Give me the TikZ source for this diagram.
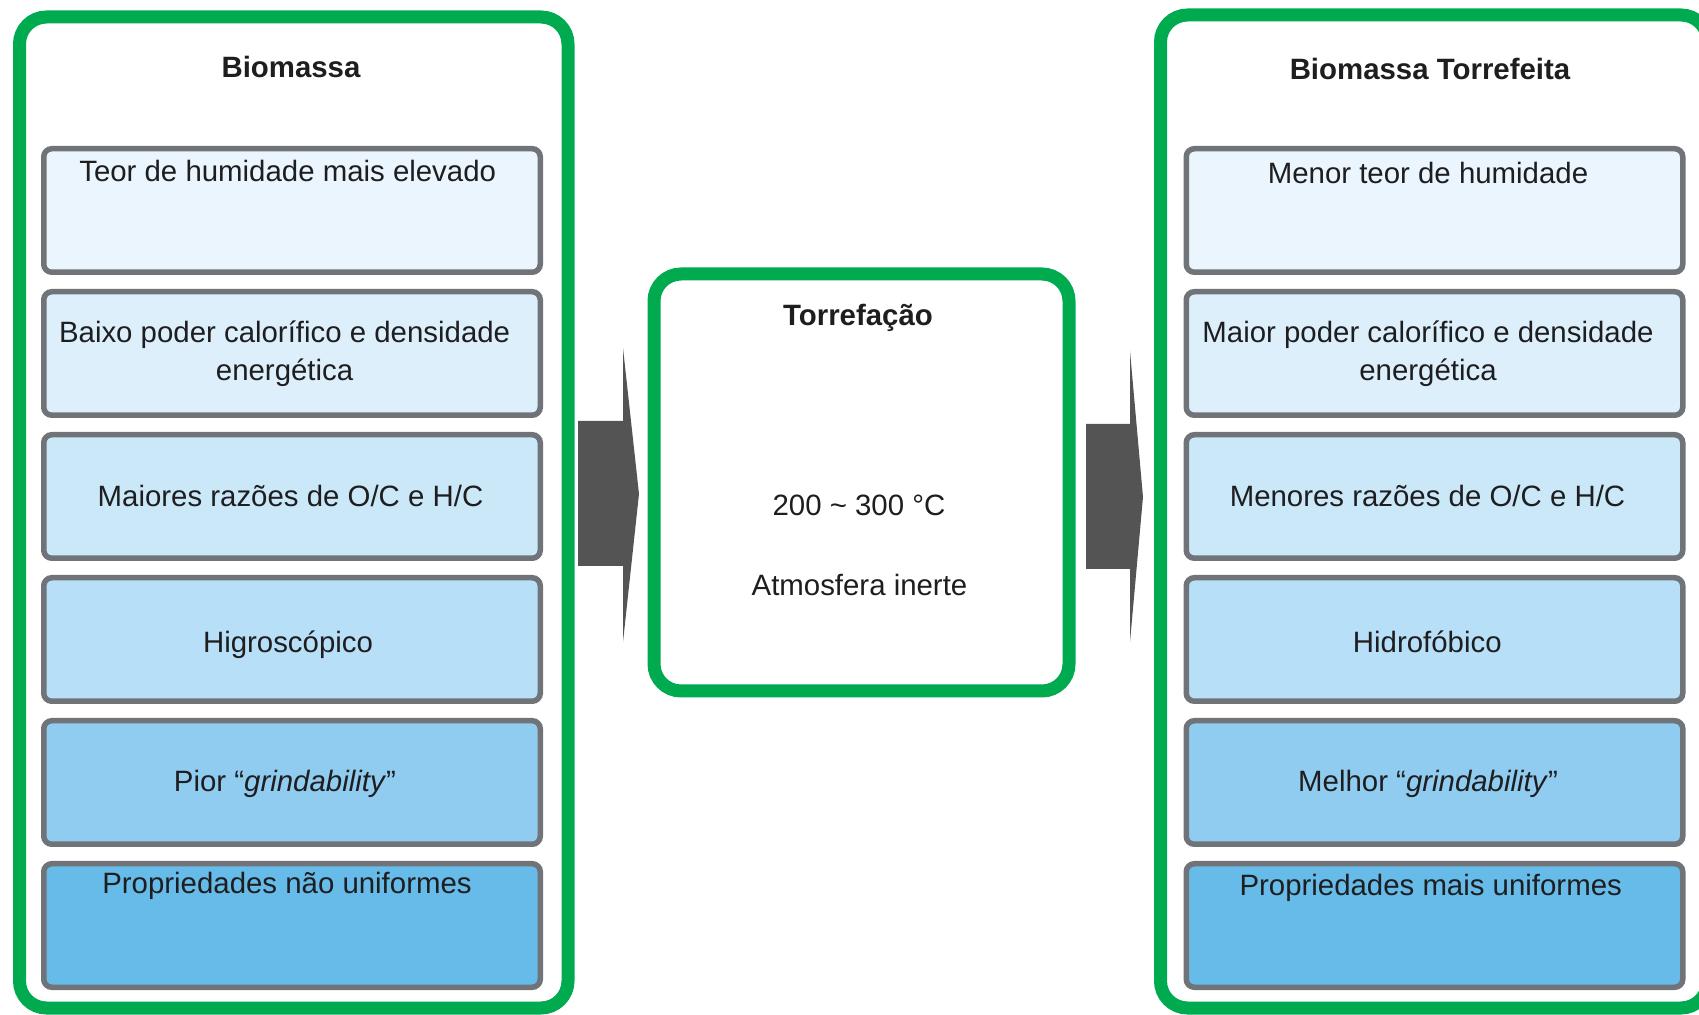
\documentclass[tikz,border=0pt]{standalone}
\usepackage{fontspec}
\setmainfont{Liberation Sans}
\definecolor{frame}{RGB}{0,170,78}
\definecolor{edge}{RGB}{112,116,120}
\definecolor{arrowgray}{RGB}{84,84,84}
\definecolor{ink}{RGB}{30,30,32}
\definecolor{rowA}{RGB}{234,245,253}
\definecolor{rowB}{RGB}{220,239,251}
\definecolor{rowC}{RGB}{203,232,249}
\definecolor{rowD}{RGB}{183,223,247}
\definecolor{rowE}{RGB}{143,204,240}
\definecolor{rowF}{RGB}{102,187,233}
\newcommand\diagfont{\fontsize{14.7}{19}\selectfont}
\begin{document}
\begin{tikzpicture}[x=0.5pt,y=-0.5pt,
  panel/.style={draw=frame,line width=6.5pt,rounded corners=13.5pt,fill=white,inner sep=0pt,outer sep=0pt},
  cell/.style={draw=edge,line width=2.75pt,rounded corners=4pt,minimum width=248.25pt,minimum height=61.75pt,inner sep=0pt,outer sep=0pt},
  txt/.style={text=ink,font=\diagfont,inner sep=0pt,text height=10.6pt,text depth=3.1pt},
  twoline/.style={text=ink,font=\diagfont,inner sep=0pt,align=center},
  heading/.style={txt,font=\diagfont\bfseries},
  blockarrow/.style={fill=arrowgray}
]
\useasboundingbox (0,0) rectangle (1699,1015);

% the three green frames
\node[panel,minimum width=274.25pt,minimum height=495.5pt] (lc) at (293.75,512.5) {};
\node[panel,minimum width=207.5pt,minimum height=208.5pt] (mc) at (861.5,482.5) {};
\node[panel,minimum width=273.75pt,minimum height=496.5pt] (rc) at (1434.25,511.5) {};

% headings
\node[heading] (lt) at (291,69.8) {Biomassa};
\node[heading] (mt) at (858,318) {Torrefação};
\node[heading] (rt) at (1430,72.5) {Biomassa Torrefeita};

% raw biomass properties
\node[cell,fill=rowA] (l1) at (292,210.5) {};
\node[cell,fill=rowB] (l2) at (292,353.5) {};
\node[cell,fill=rowC] (l3) at (292,496.5) {};
\node[cell,fill=rowD] (l4) at (292,639.5) {};
\node[cell,fill=rowE] (l5) at (292,782.5) {};
\node[cell,fill=rowF] (l6) at (292,925.5) {};
\node[txt] (l1t) at (287.7,174.2) {Teor de humidade mais elevado};
\node[twoline] (l2t) at (284.6,353.5) {Baixo poder calorífico e densidade\\energética};
\node[txt] (l3t) at (290.5,498.8) {Maiores razões de O/C e H/C};
\node[txt] (l4t) at (288,645.3) {Higroscópico};
\node[txt] (l5t) at (285,783.6) {Pior “\textit{grindability}”};
\node[txt] (l6t) at (287,886.4) {Propriedades não uniformes};

% process conditions
\node[txt] (m1) at (859,507.6) {200 \textasciitilde{} 300 °C};
\node[txt] (m2) at (859.5,588) {Atmosfera inerte};

% torrefied biomass properties
\node[cell,fill=rowA] (r1) at (1434.5,210.5) {};
\node[cell,fill=rowB] (r2) at (1434.5,353.5) {};
\node[cell,fill=rowC] (r3) at (1434.5,496.5) {};
\node[cell,fill=rowD] (r4) at (1434.5,639.5) {};
\node[cell,fill=rowE] (r5) at (1434.5,782.5) {};
\node[cell,fill=rowF] (r6) at (1434.5,925.5) {};
\node[txt] (r1t) at (1428,175.8) {Menor teor de humidade};
\node[twoline] (r2t) at (1428,353.5) {Maior poder calorífico e densidade\\energética};
\node[txt] (r3t) at (1427.5,498.8) {Menores razões de O/C e H/C};
\node[txt] (r4t) at (1427.3,645.3) {Hidrofóbico};
\node[txt] (r5t) at (1428,783.6) {Melhor “\textit{grindability}”};
\node[txt] (r6t) at (1430.7,888) {Propriedades mais uniformes};

% block arrows between the frames
\fill[blockarrow] (578,421) -- (623,421) -- (623,348) -- (639,494) -- (623,642) -- (623,566) -- (578,566) -- cycle;
\fill[blockarrow] (1086,424) -- (1130,424) -- (1130,351) -- (1143,497) -- (1130,642) -- (1130,569) -- (1086,569) -- cycle;
\end{tikzpicture}
\end{document}
